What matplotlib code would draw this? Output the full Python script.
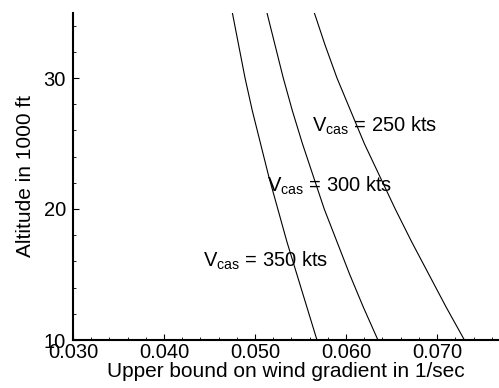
import matplotlib
matplotlib.use("Agg")
import matplotlib.pyplot as plt
from matplotlib.ticker import MultipleLocator, FormatStrFormatter

plt.rcParams['font.family'] = ['Liberation Sans', 'DejaVu Sans']

altitude = [10, 12.5, 15, 17.5, 20, 22.5, 25, 27.5, 30, 32.5, 35]
grad_250 = [0.0730, 0.0710, 0.0691, 0.0672, 0.0654, 0.0637, 0.0620, 0.0605, 0.0590, 0.0577, 0.0565]
grad_300 = [0.0635, 0.0619, 0.0604, 0.0590, 0.0576, 0.0564, 0.0552, 0.0541, 0.0531, 0.0522, 0.0513]
grad_350 = [0.0568, 0.0557, 0.0546, 0.0535, 0.0525, 0.0515, 0.0506, 0.0497, 0.0489, 0.0482, 0.0475]

labels = [r'V$_{\mathregular{cas}}$ = 250 kts',
          r'V$_{\mathregular{cas}}$ = 300 kts',
          r'V$_{\mathregular{cas}}$ = 350 kts']
label_pos = [(0.0563, 25.9), (0.0513, 21.3), (0.0443, 15.6)]

fig = plt.figure(figsize=(4.99, 3.88), dpi=100)
ax = fig.add_axes([73/499, 48/388, 1 - 73/499, (340-12.5)/388])

for g in (grad_250, grad_300, grad_350):
    ax.plot(g, altitude, color='black', lw=0.8)

for txt, (x, y) in zip(labels, label_pos):
    ax.text(x, y, txt, fontsize=14.5, va='baseline', ha='left')

ax.set_xlim(0.030, 0.0768)
ax.set_ylim(10, 35)
ax.xaxis.set_major_locator(MultipleLocator(0.010))
ax.xaxis.set_minor_locator(MultipleLocator(0.002))
ax.xaxis.set_major_formatter(FormatStrFormatter('%.3f'))
ax.yaxis.set_major_locator(MultipleLocator(10))
ax.yaxis.set_minor_locator(MultipleLocator(2))

ax.spines['top'].set_visible(False)
ax.spines['right'].set_visible(False)
ax.spines['left'].set_linewidth(1.5)
ax.spines['bottom'].set_linewidth(1.5)
ax.tick_params(which='major', direction='in', length=4, width=0.8, labelsize=14.5, pad=2)
ax.tick_params(which='minor', direction='in', length=2.5, width=0.6)
ax.tick_params(axis='y', which='major', pad=5)

ax.set_xlabel('Upper bound on wind gradient in 1/sec', fontsize=15, labelpad=0)
ax.set_ylabel('Altitude in 1000 ft', fontsize=15, labelpad=6)

fig.savefig('out.png', dpi=100)
